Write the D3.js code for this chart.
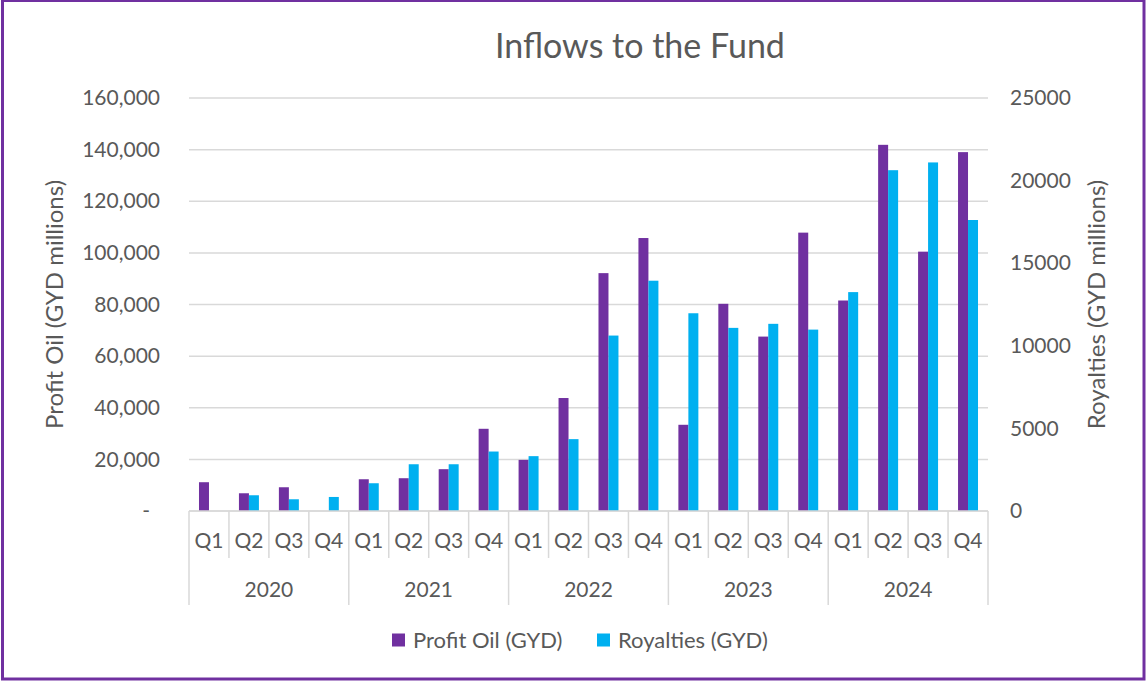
<!DOCTYPE html>
<html>
<head>
<meta charset="utf-8">
<script src="https://cdn.jsdelivr.net/npm/d3@7"></script>
<style>
  body { margin: 0; background: #fff; }
  svg text { font-family: Lato, "Open Sans", sans-serif; fill: #595959; }
</style>
</head>
<body>
<div class="chart"></div>
<script>
// quarters and years along the bottom
let quarters = ["Q1", "Q2", "Q3", "Q4"];
let years = ["2020", "2021", "2022", "2023", "2024"];

// Profit Oil (GYD millions), left axis
let profitOil = [11150, 6870, 9200, 0, 12300, 12700, 16200, 31850, 19800, 43770,
  92150, 105750, 33400, 80270, 67570, 107840, 81550, 141860, 100470, 139030];

// Royalties (GYD millions), right axis
let royalties = [0, 953, 710, 850, 1680, 2830, 2830, 3600, 3320, 4350,
  10620, 13940, 11970, 11085, 11330, 10980, 13250, 20630, 21100, 17615];

let leftTicks = [0, 20000, 40000, 60000, 80000, 100000, 120000, 140000, 160000];
let rightTicks = [0, 5000, 10000, 15000, 20000, 25000];

let purple = "#7030A0";
let cyan = "#00B0F0";
let gridColor = "#D9D9D9";

let width = 1146, height = 681;
let margin = { top: 98, left: 189, right: 158, bottom: 170 };
let plotW = width - margin.left - margin.right;
let plotH = height - margin.top - margin.bottom;

let cats = [];
years.forEach(y => quarters.forEach(q => cats.push({ id: y + q, year: y, q: q })));

let svg = d3.select(".chart").append("svg")
  .attr("width", width).attr("height", height);

svg.append("rect").attr("width", width).attr("height", height).attr("fill", "#fff");

let xScale = d3.scaleBand().domain(cats.map(d => d.id)).range([0, plotW]);
let yLeft = d3.scaleLinear().domain([0, 160000]).range([plotH, 0]);
let yRight = d3.scaleLinear().domain([0, 25000]).range([plotH, 0]);

let plot = svg.append("g").attr("transform", `translate(${margin.left},${margin.top})`);

// gridlines
plot.append("g").selectAll("line").data(leftTicks).enter().append("line")
  .attr("x1", 0).attr("x2", plotW)
  .attr("y1", d => yLeft(d)).attr("y2", d => yLeft(d))
  .attr("stroke", gridColor).attr("stroke-width", 1.5);

// left axis labels
let yAxisL = plot.append("g").call(
  d3.axisLeft(yLeft).tickValues(leftTicks).tickSize(0).tickPadding(29)
    .tickFormat(d => d === 0 ? "-" : d3.format(",")(d))
);
yAxisL.select(".domain").remove();
yAxisL.selectAll("text").style("font-size", "21px").attr("fill", "#595959")
  .attr("dx", d => d === 0 ? -10 : 0);

// right axis labels
let yAxisR = plot.append("g").attr("transform", `translate(${plotW},0)`).call(
  d3.axisRight(yRight).tickValues(rightTicks).tickSize(0).tickPadding(22)
    .tickFormat(d3.format("d"))
);
yAxisR.select(".domain").remove();
yAxisR.selectAll("text").style("font-size", "21px").attr("fill", "#595959");

let bw = xScale.bandwidth();

// bars
plot.append("g").selectAll("rect").data(cats).enter().append("rect")
  .attr("x", d => xScale(d.id) + bw * 0.25)
  .attr("width", bw * 0.25)
  .attr("y", (d, i) => yLeft(profitOil[i]))
  .attr("height", (d, i) => plotH - yLeft(profitOil[i]))
  .attr("fill", purple);

plot.append("g").selectAll("rect").data(cats).enter().append("rect")
  .attr("x", d => xScale(d.id) + bw * 0.5)
  .attr("width", bw * 0.25)
  .attr("y", (d, i) => yRight(royalties[i]))
  .attr("height", (d, i) => plotH - yRight(royalties[i]))
  .attr("fill", cyan);

// category axis: quarter dividers, year dividers
let catAxis = plot.append("g").attr("transform", `translate(0,${plotH})`);
catAxis.append("line").attr("x1", 0).attr("x2", plotW)
  .attr("stroke", gridColor).attr("stroke-width", 1.5);

let dividers = d3.range(cats.length + 1);
catAxis.selectAll(".qdiv").data(dividers).enter().append("line")
  .attr("class", "qdiv")
  .attr("x1", i => i * bw).attr("x2", i => i * bw)
  .attr("y1", 0).attr("y2", i => i % 4 === 0 ? 94 : 47)
  .attr("stroke", gridColor).attr("stroke-width", 1.5);

catAxis.selectAll(".qlab").data(cats).enter().append("text")
  .attr("x", d => xScale(d.id) + bw / 2)
  .attr("y", 30)
  .attr("dy", "0.35em")
  .attr("text-anchor", "middle")
  .style("font-size", "21px")
  .text(d => d.q);

catAxis.selectAll(".ylab").data(years).enter().append("text")
  .attr("x", (d, i) => (i * 4 + 2) * bw)
  .attr("y", 79)
  .attr("dy", "0.35em")
  .attr("text-anchor", "middle")
  .style("font-size", "21px")
  .text(d => d);

// title
svg.append("text").attr("x", 640).attr("y", 46).attr("dy", "0.35em")
  .attr("text-anchor", "middle").style("font-size", "34px")
  .text("Inflows to the Fund");

// axis titles
svg.append("text")
  .attr("transform", `translate(55,${margin.top + plotH / 2}) rotate(-90)`)
  .attr("dy", "0.35em").attr("text-anchor", "middle").style("font-size", "24px")
  .text("Profit Oil (GYD millions)");

svg.append("text")
  .attr("transform", `translate(1097,${margin.top + plotH / 2}) rotate(-90)`)
  .attr("dy", "0.35em").attr("text-anchor", "middle").style("font-size", "24px")
  .text("Royalties (GYD millions)");

// legend
let legendItems = [
  { name: "Profit Oil (GYD)", color: purple, x: 392 },
  { name: "Royalties (GYD)", color: cyan, x: 597 }
];
let legend = svg.append("g").selectAll("g").data(legendItems).enter().append("g")
  .attr("transform", d => `translate(${d.x},640)`);
legend.append("rect").attr("x", 0).attr("y", -6.5).attr("width", 13).attr("height", 13)
  .attr("fill", d => d.color);
legend.append("text").attr("x", 21).attr("dy", "0.35em").style("font-size", "22px")
  .text(d => d.name);

// outer border
svg.append("rect").attr("x", 2.5).attr("y", 0.5).attr("width", 1141.5).attr("height", 678.5)
  .attr("fill", "none").attr("stroke", purple).attr("stroke-width", 3);
</script>
</body>
</html>
